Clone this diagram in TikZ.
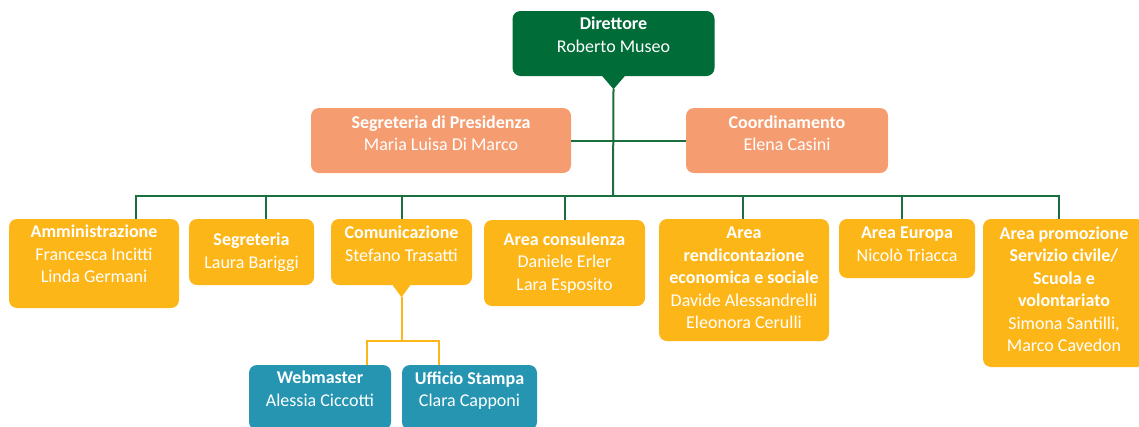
\documentclass[tikz,border=0pt]{standalone}
\usepackage{fontspec}
\setmainfont{Carlito}
\definecolor{dirgreen}{HTML}{006C38}
\definecolor{linegreen}{HTML}{1B6E3D}
\definecolor{salmon}{HTML}{F59D71}
\definecolor{amber}{HTML}{FDB618}
\definecolor{webteal}{HTML}{2595B2}
\begin{document}
\begin{tikzpicture}[x=1pt,y=-1pt,
    box/.style={rounded corners=8pt,inner sep=0pt},
    txt/.style={text=white,align=center,inner sep=0pt,font=\fontsize{18}{22.5}\selectfont},
    gline/.style={draw=linegreen,line width=2pt},
    yline/.style={draw=amber,line width=2pt}]
  \useasboundingbox (0,0) rectangle (1139,426);
  % top level
  \node[box,fill=dirgreen,minimum width=202,minimum height=65] (dir) at (613.5,43.5) {};
  \node[txt] (dirtxt) at ([yshift=9]dir.center) {\textbf{Direttore}\\Roberto Museo};
  \coordinate (dirtip) at ([yshift=-13]dir.south);
  \fill[dirgreen] ([xshift=-12,yshift=1]dir.south) -- ([xshift=12,yshift=1]dir.south) -- (dirtip) -- cycle;
  % staff
  \node[box,fill=salmon,minimum width=260,minimum height=65] (segpres) at (441,140.5) {};
  \node[txt] (segprestxt) at ([yshift=7.5]segpres.center) {\textbf{Segreteria di Presidenza}\\Maria Luisa Di Marco};
  \node[box,fill=salmon,minimum width=202,minimum height=65] (coord) at (787,140.5) {};
  \node[txt] (coordtxt) at ([yshift=7.5]coord.center) {\textbf{Coordinamento}\\Elena Casini};
  % areas
  \node[box,fill=amber,minimum width=170,minimum height=89] (adm) at (94,263.5) {};
  \node[txt] (admtxt) at ([yshift=9.5]adm.center) {\textbf{Amministrazione}\\Francesca Incitti\\Linda Germani};
  \node[box,fill=amber,minimum width=125,minimum height=66] (seg) at (251.5,252) {};
  \node[txt] (segtxt) at (seg.center) {\textbf{Segreteria}\\Laura Bariggi};
  \node[box,fill=amber,minimum width=141,minimum height=66] (com) at (401.5,252) {};
  \node[txt] (comtxt) at ([yshift=8.5]com.center) {\textbf{Comunicazione}\\Stefano Trasatti};
  \coordinate (comtip) at ([yshift=-12]com.south);
  \fill[amber] ([xshift=-9.5,yshift=1]com.south) -- ([xshift=9.5,yshift=1]com.south) -- (comtip) -- cycle;
  \node[box,fill=amber,minimum width=161,minimum height=86] (cons) at (564.5,263) {};
  \node[txt] (constxt) at (cons.center) {\textbf{Area consulenza}\\Daniele Erler\\Lara Esposito};
  \node[box,fill=amber,minimum width=170,minimum height=122] (rend) at (744,280) {};
  \node[txt] (rendtxt) at ([yshift=2]rend.center) {\textbf{Area}\\\textbf{rendicontazione}\\\textbf{economica e sociale}\\Davide Alessandrelli\\Eleonora Cerulli};
  \node[box,fill=amber,minimum width=136,minimum height=59] (eur) at (907,248.5) {};
  \node[txt] (eurtxt) at ([yshift=4.5]eur.center) {\textbf{Area Europa}\\Nicolò Triacca};
  \node[box,fill=amber,minimum width=162,minimum height=148] (prom) at (1064,293) {};
  \node[txt] (promtxt) at ([yshift=3.6]prom.center) {\textbf{Area promozione}\\\textbf{Servizio civile/}\\\textbf{Scuola e}\\\textbf{volontariato}\\Simona Santilli,\\Marco Cavedon};
  % communication offices
  \node[box,fill=webteal,minimum width=142,minimum height=65] (web) at (320,397.5) {};
  \node[txt] (webtxt) at ([yshift=9]web.center) {\textbf{Webmaster}\\Alessia Ciccotti};
  \node[box,fill=webteal,minimum width=135,minimum height=65] (uff) at (469.5,397.5) {};
  \node[txt] (ufftxt) at ([yshift=6.7]uff.center) {\textbf{Ufficio Stampa}\\Clara Capponi};
  % connectors
  \coordinate (bus) at (613,196);
  \draw[gline] (dirtip) -- (bus);
  \draw[gline] (segpres.east) -- (coord.west);
  \draw[gline] (bus) -| ([xshift=42]adm.north);
  \draw[gline] (bus) -| ([xshift=14.5]seg.north);
  \draw[gline] (bus) -| ([xshift=0.5]com.north);
  \draw[gline] (bus) -| (cons.north);
  \draw[gline] (bus) -| ([xshift=-1]rend.north);
  \draw[gline] (bus) -| ([xshift=-5]eur.north);
  \draw[gline] (bus) -| ([xshift=-5]prom.north);
  \coordinate (combus) at ([yshift=-56]com.south);
  \draw[yline] (comtip) -- (combus);
  \draw[yline] (combus) -| ([xshift=47]web.north);
  \draw[yline] (combus) -| ([xshift=-30.5]uff.north);
\end{tikzpicture}
\end{document}
